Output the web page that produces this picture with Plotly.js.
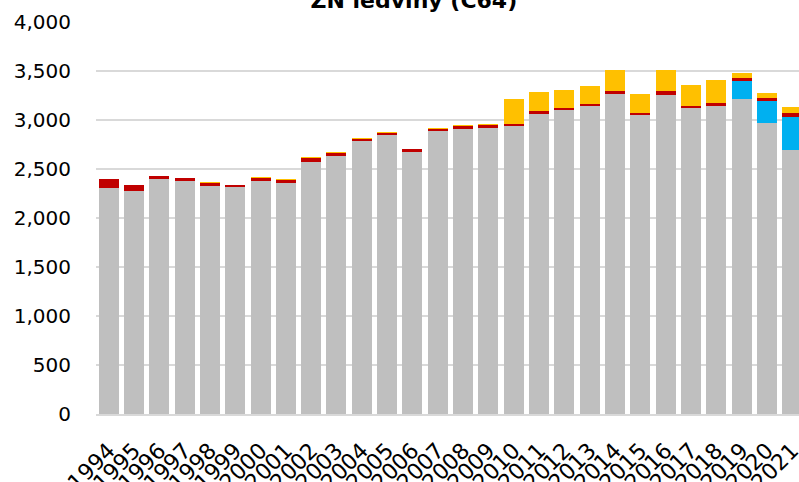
<!DOCTYPE html>
<html>
<head>
<meta charset="utf-8">
<script src="https://cdn.plot.ly/plotly-3.0.1.min.js"></script>
<style>html,body{margin:0;padding:0;background:#fff;overflow:hidden}#chart{width:799px;height:482px}</style>
</head>
<body>
<div id="chart"></div>
<script>
const years = ["1994","1995","1996","1997","1998","1999","2000","2001","2002","2003","2004","2005","2006","2007","2008","2009","2010","2011","2012","2013","2014","2015","2016","2017","2018","2019","2020","2021"];
const grayVals   = [2309,2274,2394,2377,2326,2312,2377,2356,2570,2628,2781,2843,2672,2887,2907,2921,2938,3060,3101,3139,3262,3050,3258,3119,3146,3210,2968,2693];
const blueVals   = [0,0,0,0,0,0,0,0,0,0,0,0,0,0,0,0,0,0,0,0,0,0,0,0,0,184,225,334];
const redVals    = [87,62,38,34,34,24,34,35,45,38,28,27,28,17,35,28,24,28,21,23,30,17,34,23,31,38,35,44];
const yellowVals = [0,5,0,0,5,4,3,4,3,4,4,4,4,10,6,12,248,197,187,181,215,195,215,215,228,51,47,58];
const titleText = "ZN ledviny (C64)";

const mk = (y, color, name) => ({
  type: 'bar', x: years, y: y, name: name,
  marker: {color: color, line: {width: 0}},
  hoverinfo: 'x+y'
});

const data = [
  mk(grayVals, '#bfbfbf', 'a'),
  mk(blueVals, '#00b0f0', 'b'),
  mk(redVals, '#c00000', 'c'),
  mk(yellowVals, '#ffc000', 'd')
];

const font = 'DejaVu Sans, sans-serif';
const layout = {
  width: 799, height: 482,
  margin: {l: 96, r: 0, t: 22, b: 68, pad: 0},
  barmode: 'stack',
  bargap: 0.21,
  showlegend: false,
  paper_bgcolor: '#fff', plot_bgcolor: '#fff',
  font: {family: font, size: 20, color: '#000'},
  title: {
    text: '<b>' + titleText + '</b>',
    font: {family: font, size: 22, color: '#000'},
    xref: 'container', x: 0.518, xanchor: 'center',
    yref: 'container', y: 1 - 8/482, yanchor: 'bottom'
  },
  xaxis: {
    type: 'category',
    range: [-0.5, 27.27],
    tickmode: 'array', tickvals: years, ticktext: years,
    tickangle: -45,
    tickfont: {family: font, size: 22, color: '#000'},
    ticks: '', ticklabelstandoff: 13,
    showgrid: false,
    showline: true, linecolor: '#d9d9d9', linewidth: 2,
    fixedrange: true
  },
  yaxis: {
    range: [0, 4000],
    dtick: 500,
    tickformat: ',d',
    tickfont: {family: font, size: 20, color: '#000'},
    ticks: '', ticklabelstandoff: 24,
    showgrid: true, gridcolor: '#d9d9d9', gridwidth: 2,
    zeroline: false,
    showline: false,
    fixedrange: true
  }
};

Plotly.newPlot('chart', data, layout, {displayModeBar: false, staticPlot: true});
</script>
</body>
</html>
